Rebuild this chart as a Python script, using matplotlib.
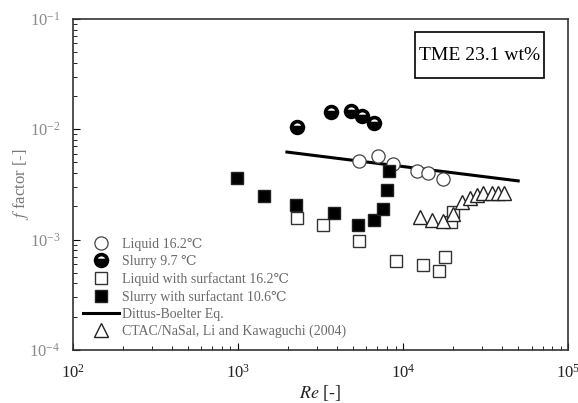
import matplotlib
matplotlib.use("Agg")
import matplotlib.pyplot as plt
from matplotlib.patches import Rectangle

plt.rcParams["font.family"] = ["Liberation Serif", "DejaVu Serif"]
plt.rcParams["mathtext.fontset"] = "stix"

# data
re_liquid = [5410, 7050, 8690, 12150, 14180, 17470]
f_liquid = [0.00515, 0.00571, 0.00484, 0.00419, 0.00402, 0.00355]

re_slurry = [2280, 3660, 4840, 5650, 6670]
f_slurry = [0.01042, 0.01422, 0.01452, 0.0131, 0.01132]

re_liq_surf = [2280, 3270, 5410, 9080, 13200, 16500, 17980, 19540, 20100]
f_liq_surf = [0.00158, 0.00134, 0.00096, 0.000634, 0.000583, 0.000515, 0.000689, 0.00145, 0.00179]

re_slu_surf = [986, 1440, 2250, 3820, 5340, 6670, 7560, 8000, 8230]
f_slu_surf = [0.00362, 0.00249, 0.00206, 0.00175, 0.00134, 0.00151, 0.00190, 0.00282, 0.00419]

re_db = [1980, 49800]
f_db = [0.00621, 0.00340]

re_ctac = [12700, 15000, 17470, 20100, 22800, 25500, 28100, 30500, 34600, 37600, 40900]
f_ctac = [0.00161, 0.00151, 0.00148, 0.00171, 0.00220, 0.00239, 0.00254, 0.00265, 0.00265, 0.00265, 0.00265]

fig = plt.figure(figsize=(5.78, 4.03), dpi=100)
ax = fig.add_axes([0.126, 0.132, 0.857, 0.821])

ms = 8.5
ax.plot(re_liquid, f_liquid, "o", ms=ms + 1, mfc="white", mec="#444444", mew=0.9,
        label="Liquid 16.2\u2103", zorder=3)
ax.plot(re_slurry, f_slurry, "o", ms=ms, fillstyle="bottom", mfc="black", mfcalt="white",
        mec="black", mew=2.6, label="Slurry 9.7 \u2103", zorder=3)
ax.plot(re_liq_surf, f_liq_surf, "s", ms=ms, mfc="white", mec="#333333", mew=1.0,
        label="Liquid with surfactant 16.2\u2103", zorder=3)
ax.plot(re_slu_surf, f_slu_surf, "s", ms=ms, mfc="black", mec="#222222", mew=1.0,
        label="Slurry with surfactant 10.6\u2103", zorder=4)
ax.plot(re_db, f_db, "-", color="black", lw=2.2, label="Dittus-Boelter Eq.", zorder=2)
ax.plot(re_ctac, f_ctac, "^", ms=ms + 1, mfc="white", mec="#222222", mew=1.0,
        label="CTAC/NaSal, Li and Kawaguchi (2004)", zorder=3)

ax.set_xscale("log")
ax.set_yscale("log")
ax.set_xlim(1e2, 1e5)
ax.set_ylim(1e-4, 1e-1)

ax.tick_params(which="both", direction="in", top=False, right=False)
ax.tick_params(which="major", length=5, labelsize=12)
ax.tick_params(which="minor", length=3)
ax.tick_params(axis="y", labelcolor="#8a8a8a", pad=9)
ax.tick_params(axis="x", labelcolor="#222222", pad=10)
for s in ax.spines.values():
    s.set_linewidth(1.2)
    s.set_color("#333333")

ax.set_xlabel("$Re$ [-]", fontsize=13, color="#222222")
ax.xaxis.set_label_coords(0.5, -0.1)
ax.set_ylabel("$f$ factor [-]", fontsize=12, color="#777777")
ax.yaxis.set_label_coords(-0.085, 0.5)

leg = ax.legend(loc="upper left", bbox_to_anchor=(0.012, 0.352), frameon=False,
                fontsize=10, handlelength=2.6, handletextpad=0.2, labelspacing=0.3,
                borderaxespad=0.3, borderpad=0.0)
for t in leg.get_texts():
    t.set_color("#6a6a6a")

ax.add_patch(Rectangle((0.69, 0.82), 0.262, 0.14, transform=ax.transAxes,
                       fill=False, ec="black", lw=1.2, zorder=5))
ax.text(0.821, 0.89, "TME 23.1 wt%", transform=ax.transAxes, ha="center", va="center",
        fontsize=14, color="black", zorder=6)

fig.savefig("out.png", dpi=100)
